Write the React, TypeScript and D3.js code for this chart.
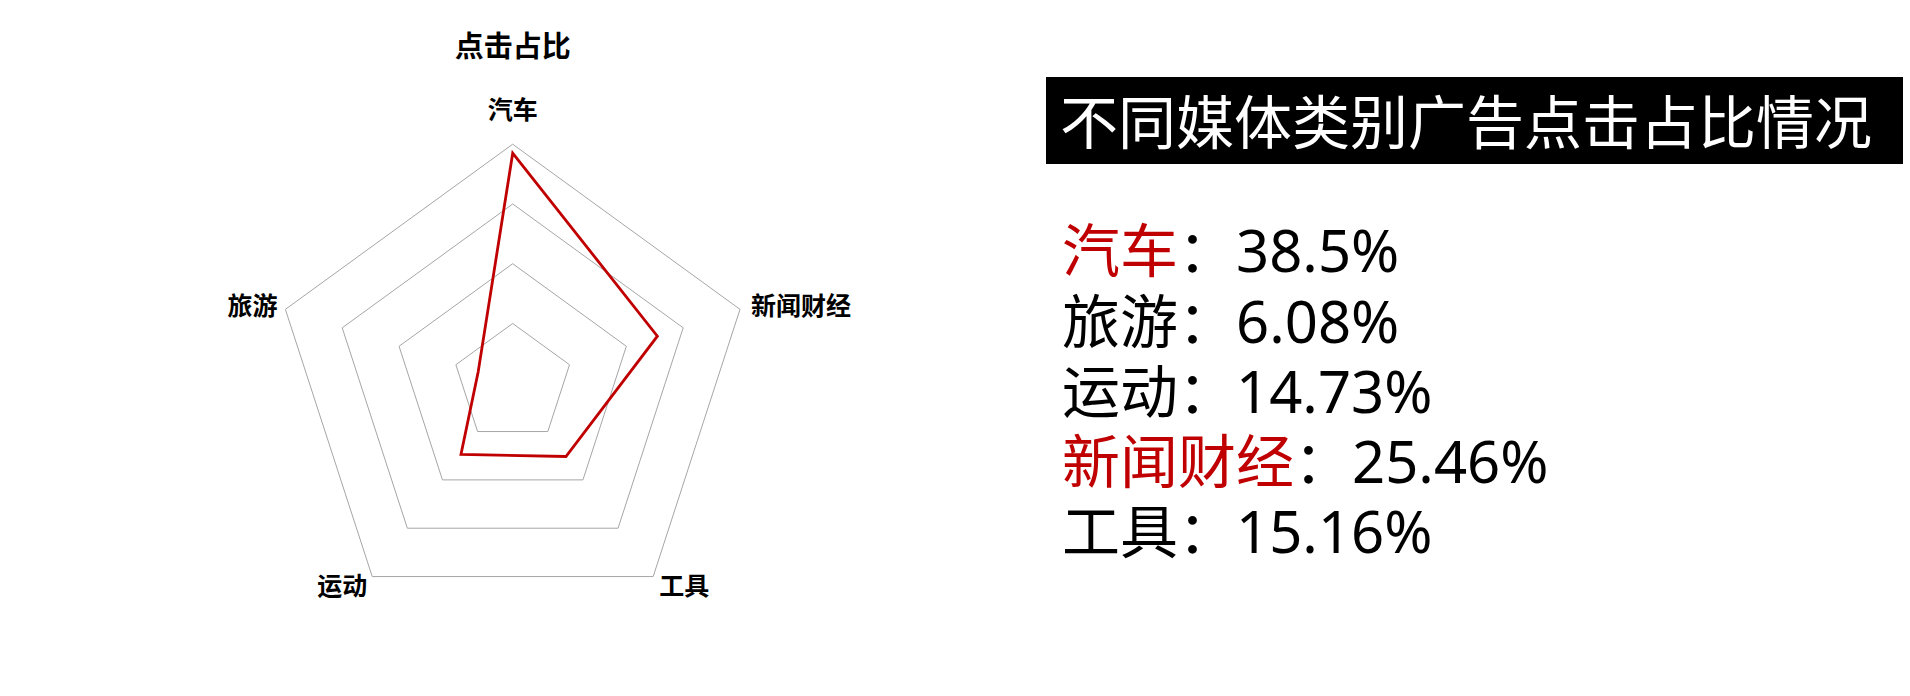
import * as d3 from 'd3';

// chart data: clockwise from the top
const categories = ['汽车', '新闻财经', '工具', '运动', '旅游'];
const shares = [38.5, 25.46, 15.16, 14.73, 6.08];
const ringTicks = [10, 20, 30, 40];

// summary list on the right
const listNames = ['汽车', '旅游', '运动', '新闻财经', '工具'];
const listValues = ['38.5%', '6.08%', '14.73%', '25.46%', '15.16%'];
const highlighted = ['汽车', '新闻财经'];

const chartTitle = '点击占比';
const panelTitle = '不同媒体类别广告点击占比情况';

const W = 1910;
const H = 696;
const cx = 512.7;
const cy = 383.2;
const R = 239;

const App = () => {
  const rScale = d3.scaleLinear().domain([0, 40]).range([0, R]);
  const angle = (i: number) => (i * 2 * Math.PI) / categories.length;

  const radial = d3
    .lineRadial<number>()
    .angle((_, i) => angle(i))
    .radius((d) => rScale(d))
    .curve(d3.curveLinearClosed);

  const ringPath = (t: number) => radial(categories.map(() => t)) as string;

  // label anchor points at the outer ring
  const labelPos = categories.map((c, i) => {
    const a = angle(i);
    const x = cx + rScale(40) * Math.sin(a);
    const y = cy - rScale(40) * Math.cos(a);
    const s = Math.sin(a);
    let anchor = 'middle';
    let dx = 0;
    let dy = 0;
    if (Math.abs(s) < 0.01) {
      dy = -34;
    } else if (s > 0) {
      anchor = 'start';
      dx = s > 0.9 ? 11 : 6;
      dy = s > 0.9 ? -3 : 9;
    } else {
      anchor = 'end';
      dx = s < -0.9 ? -8 : -5;
      dy = s < -0.9 ? -3 : 9;
    }
    return { c, x: x + dx, y: y + dy, anchor };
  });

  const fontStack = '"Noto Sans", "Noto Sans CJK SC", sans-serif';
  const rowFs = 58;

  return (
    <svg
      width={W}
      height={H}
      style={{ position: 'absolute', left: 0, top: 0, background: '#fff' }}
    >
      <rect width={W} height={H} fill="#fff" />
      {/* radar chart */}
      <text
        x={cx}
        y={46.7 + 0.36 * 29}
        textAnchor="middle"
        fontFamily='"Noto Sans CJK SC", sans-serif'
        fontWeight={700}
        fontSize={29}
        fill="#000"
      >
        {chartTitle}
      </text>
      <g transform={`translate(${cx},${cy})`}>
        {ringTicks.map((t) => (
          <path key={t} d={ringPath(t)} fill="none" stroke="#a6a6a6" strokeWidth={1} />
        ))}
        <path
          d={radial(shares) as string}
          fill="none"
          stroke="#c00000"
          strokeWidth={2.8}
          strokeLinejoin="miter"
        />
      </g>
      {labelPos.map((l) => (
        <text
          key={l.c}
          x={l.x}
          y={l.y + 0.36 * 25}
          textAnchor={l.anchor}
          fontFamily='"Noto Sans CJK SC", sans-serif'
          fontWeight={700}
          fontSize={25}
          fill="#000"
        >
          {l.c}
        </text>
      ))}

      {/* right panel */}
      <rect x={1046} y={77} width={857} height={87} fill="#000" />
      <text
        x={1060}
        y={123 + 0.36 * 58}
        fontFamily='"Noto Sans CJK SC", sans-serif'
        fontSize={58}
        fill="#fff"
      >
        {panelTitle}
      </text>
      {listNames.map((n, i) => (
        <text
          key={n}
          x={1062}
          y={251.5 + i * 70.2 + 0.36 * rowFs}
          fontFamily={fontStack}
          fontSize={rowFs}
          fill="#000"
        >
          <tspan fill={highlighted.includes(n) ? '#c00000' : '#000'}>{n}</tspan>
          <tspan>{'：' + listValues[i]}</tspan>
        </text>
      ))}
    </svg>
  );
};

export default App;
